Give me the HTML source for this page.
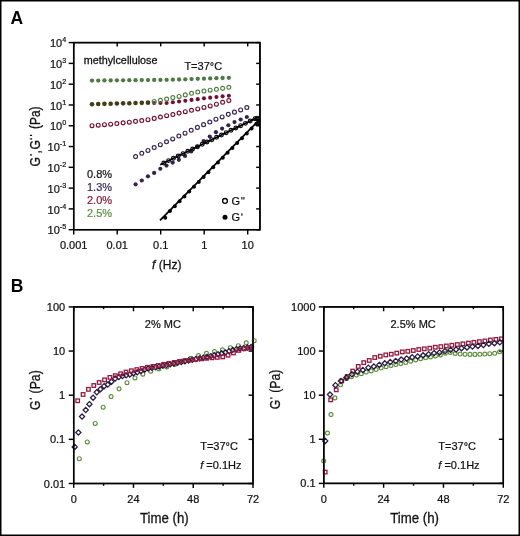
<!DOCTYPE html>
<html><head><meta charset="utf-8"><style>
html,body{margin:0;padding:0;background:#fff;}
svg{display:block;will-change:transform;font-family:"Liberation Sans", sans-serif;}
</style></head><body>
<svg width="520" height="536" viewBox="0 0 520 536">
<rect x="0" y="0" width="520" height="536" fill="#fff"/>
<rect x="0.75" y="0.75" width="518.5" height="534.5" fill="none" stroke="#000" stroke-width="1.5"/>
<rect x="73.7" y="42.6" width="186.25" height="187.1" fill="none" stroke="#000" stroke-width="1.45"/>
<line x1="68.7" y1="229.7" x2="73.7" y2="229.7" stroke="#000" stroke-width="1.45"/>
<line x1="259.95" y1="229.7" x2="256.15" y2="229.7" stroke="#000" stroke-width="1.45"/>
<line x1="68.7" y1="208.91" x2="73.7" y2="208.91" stroke="#000" stroke-width="1.45"/>
<line x1="259.95" y1="208.91" x2="256.15" y2="208.91" stroke="#000" stroke-width="1.45"/>
<line x1="68.7" y1="188.12" x2="73.7" y2="188.12" stroke="#000" stroke-width="1.45"/>
<line x1="259.95" y1="188.12" x2="256.15" y2="188.12" stroke="#000" stroke-width="1.45"/>
<line x1="68.7" y1="167.33" x2="73.7" y2="167.33" stroke="#000" stroke-width="1.45"/>
<line x1="259.95" y1="167.33" x2="256.15" y2="167.33" stroke="#000" stroke-width="1.45"/>
<line x1="68.7" y1="146.54" x2="73.7" y2="146.54" stroke="#000" stroke-width="1.45"/>
<line x1="259.95" y1="146.54" x2="256.15" y2="146.54" stroke="#000" stroke-width="1.45"/>
<line x1="68.7" y1="125.76" x2="73.7" y2="125.76" stroke="#000" stroke-width="1.45"/>
<line x1="259.95" y1="125.76" x2="256.15" y2="125.76" stroke="#000" stroke-width="1.45"/>
<line x1="68.7" y1="104.97" x2="73.7" y2="104.97" stroke="#000" stroke-width="1.45"/>
<line x1="259.95" y1="104.97" x2="256.15" y2="104.97" stroke="#000" stroke-width="1.45"/>
<line x1="68.7" y1="84.18" x2="73.7" y2="84.18" stroke="#000" stroke-width="1.45"/>
<line x1="259.95" y1="84.18" x2="256.15" y2="84.18" stroke="#000" stroke-width="1.45"/>
<line x1="68.7" y1="63.39" x2="73.7" y2="63.39" stroke="#000" stroke-width="1.45"/>
<line x1="259.95" y1="63.39" x2="256.15" y2="63.39" stroke="#000" stroke-width="1.45"/>
<line x1="68.7" y1="42.6" x2="73.7" y2="42.6" stroke="#000" stroke-width="1.45"/>
<line x1="259.95" y1="42.6" x2="256.15" y2="42.6" stroke="#000" stroke-width="1.45"/>
<line x1="73.7" y1="229.7" x2="73.7" y2="234.5" stroke="#000" stroke-width="1.45"/>
<line x1="73.7" y1="42.6" x2="73.7" y2="46.4" stroke="#000" stroke-width="1.45"/>
<line x1="117.2" y1="229.7" x2="117.2" y2="234.5" stroke="#000" stroke-width="1.45"/>
<line x1="117.2" y1="42.6" x2="117.2" y2="46.4" stroke="#000" stroke-width="1.45"/>
<line x1="160.7" y1="229.7" x2="160.7" y2="234.5" stroke="#000" stroke-width="1.45"/>
<line x1="160.7" y1="42.6" x2="160.7" y2="46.4" stroke="#000" stroke-width="1.45"/>
<line x1="204.2" y1="229.7" x2="204.2" y2="234.5" stroke="#000" stroke-width="1.45"/>
<line x1="204.2" y1="42.6" x2="204.2" y2="46.4" stroke="#000" stroke-width="1.45"/>
<line x1="247.7" y1="229.7" x2="247.7" y2="234.5" stroke="#000" stroke-width="1.45"/>
<line x1="247.7" y1="42.6" x2="247.7" y2="46.4" stroke="#000" stroke-width="1.45"/>
<text x="66.2" y="234.3" font-size="11" text-anchor="end" fill="#111" stroke="#111" stroke-width="0.22">10<tspan font-size="7.2" dy="-4.9">-5</tspan></text>
<text x="66.2" y="213.51" font-size="11" text-anchor="end" fill="#111" stroke="#111" stroke-width="0.22">10<tspan font-size="7.2" dy="-4.9">-4</tspan></text>
<text x="66.2" y="192.72" font-size="11" text-anchor="end" fill="#111" stroke="#111" stroke-width="0.22">10<tspan font-size="7.2" dy="-4.9">-3</tspan></text>
<text x="66.2" y="171.93" font-size="11" text-anchor="end" fill="#111" stroke="#111" stroke-width="0.22">10<tspan font-size="7.2" dy="-4.9">-2</tspan></text>
<text x="66.2" y="151.14" font-size="11" text-anchor="end" fill="#111" stroke="#111" stroke-width="0.22">10<tspan font-size="7.2" dy="-4.9">-1</tspan></text>
<text x="66.2" y="130.36" font-size="11" text-anchor="end" fill="#111" stroke="#111" stroke-width="0.22">10<tspan font-size="7.2" dy="-4.9">0</tspan></text>
<text x="66.2" y="109.57" font-size="11" text-anchor="end" fill="#111" stroke="#111" stroke-width="0.22">10<tspan font-size="7.2" dy="-4.9">1</tspan></text>
<text x="66.2" y="88.78" font-size="11" text-anchor="end" fill="#111" stroke="#111" stroke-width="0.22">10<tspan font-size="7.2" dy="-4.9">2</tspan></text>
<text x="66.2" y="67.99" font-size="11" text-anchor="end" fill="#111" stroke="#111" stroke-width="0.22">10<tspan font-size="7.2" dy="-4.9">3</tspan></text>
<text x="66.2" y="47.2" font-size="11" text-anchor="end" fill="#111" stroke="#111" stroke-width="0.22">10<tspan font-size="7.2" dy="-4.9">4</tspan></text>
<text x="73.7" y="249" font-size="11" text-anchor="middle" fill="#111" stroke="#111" stroke-width="0.22" >0.001</text>
<text x="117.2" y="249" font-size="11" text-anchor="middle" fill="#111" stroke="#111" stroke-width="0.22" >0.01</text>
<text x="160.7" y="249" font-size="11" text-anchor="middle" fill="#111" stroke="#111" stroke-width="0.22" >0.1</text>
<text x="204.2" y="249" font-size="11" text-anchor="middle" fill="#111" stroke="#111" stroke-width="0.22" >1</text>
<text x="247.7" y="249" font-size="11" text-anchor="middle" fill="#111" stroke="#111" stroke-width="0.22" >10</text>
<text x="166.8" y="268.7" font-size="13" text-anchor="middle" fill="#111" stroke="#111" stroke-width="0.28" textLength="29.4" lengthAdjust="spacingAndGlyphs"><tspan font-style="italic">f</tspan> (Hz)</text>
<text transform="translate(40.1,166.5) rotate(-90) scale(0.88,1)" x="0" y="0" font-size="13.8" fill="#111" stroke="#111" stroke-width="0.28">G</text>
<text transform="translate(40.1,153.6) rotate(-90) scale(0.88,1)" x="0" y="0" font-size="13.8" fill="#111" stroke="#111" stroke-width="0.28">,</text>
<text transform="translate(40.1,149.6) rotate(-90) scale(0.88,1)" x="0" y="0" font-size="13.8" fill="#111" stroke="#111" stroke-width="0.28">G</text>
<line x1="29.9" y1="154.9" x2="32.1" y2="154.9" stroke="#111" stroke-width="1.25"/>
<line x1="29.9" y1="135.4" x2="32.1" y2="135.4" stroke="#111" stroke-width="1.25"/>
<line x1="29.9" y1="138.9" x2="32.1" y2="138.9" stroke="#111" stroke-width="1.25"/>
<text transform="translate(40.1,128.9) rotate(-90)" x="0" y="0" font-size="13.8" fill="#111" stroke="#111" stroke-width="0.28" textLength="22.4" lengthAdjust="spacingAndGlyphs">(Pa)</text>
<text x="83.7" y="63.8" font-size="10.6" fill="#111" stroke="#111" stroke-width="0.28" textLength="73.8" lengthAdjust="spacingAndGlyphs">methylcellulose</text>
<text x="184.4" y="70" font-size="11" text-anchor="start" fill="#111" stroke="#111" stroke-width="0.22" >T=37°C</text>
<text x="87" y="177.6" font-size="11" text-anchor="start" fill="#141414" stroke="#141414" stroke-width="0.22" >0.8%</text>
<text x="87" y="190.6" font-size="11" text-anchor="start" fill="#3e2a5c" stroke="#3e2a5c" stroke-width="0.22" >1.3%</text>
<text x="87" y="203.9" font-size="11" text-anchor="start" fill="#7e1834" stroke="#7e1834" stroke-width="0.22" >2.0%</text>
<text x="87" y="216.6" font-size="11" text-anchor="start" fill="#5f8f45" stroke="#5f8f45" stroke-width="0.22" >2.5%</text>
<circle cx="225" cy="200.9" r="2.4" fill="none" stroke="#000" stroke-width="1.3"/>
<circle cx="225" cy="217.2" r="2.5" fill="#000"/>
<text x="231.6" y="204.6" font-size="11" text-anchor="start" fill="#111" stroke="#111" stroke-width="0.22" >G</text>
<text x="231.6" y="220.6" font-size="11" text-anchor="start" fill="#111" stroke="#111" stroke-width="0.22" >G</text>
<line x1="241.9" y1="197.1" x2="241.9" y2="199.5" stroke="#111" stroke-width="1.15"/>
<line x1="243.9" y1="197.1" x2="243.9" y2="199.5" stroke="#111" stroke-width="1.15"/>
<line x1="241.9" y1="213.3" x2="241.9" y2="215.7" stroke="#111" stroke-width="1.15"/>
<circle cx="92" cy="125.7" r="1.95" fill="none" stroke="#741030" stroke-width="1.15"/>
<circle cx="98.22" cy="125.2" r="1.95" fill="none" stroke="#741030" stroke-width="1.15"/>
<circle cx="104.44" cy="124.7" r="1.95" fill="none" stroke="#741030" stroke-width="1.15"/>
<circle cx="110.66" cy="124.19" r="1.95" fill="none" stroke="#741030" stroke-width="1.15"/>
<circle cx="116.88" cy="123.52" r="1.95" fill="none" stroke="#741030" stroke-width="1.15"/>
<circle cx="123.1" cy="122.85" r="1.95" fill="none" stroke="#741030" stroke-width="1.15"/>
<circle cx="129.32" cy="122.17" r="1.95" fill="none" stroke="#741030" stroke-width="1.15"/>
<circle cx="135.54" cy="121.36" r="1.95" fill="none" stroke="#741030" stroke-width="1.15"/>
<circle cx="141.76" cy="120.56" r="1.95" fill="none" stroke="#741030" stroke-width="1.15"/>
<circle cx="147.98" cy="119.72" r="1.95" fill="none" stroke="#741030" stroke-width="1.15"/>
<circle cx="154.2" cy="118.39" r="1.95" fill="none" stroke="#741030" stroke-width="1.15"/>
<circle cx="160.42" cy="117.06" r="1.95" fill="none" stroke="#741030" stroke-width="1.15"/>
<circle cx="166.64" cy="115.73" r="1.95" fill="none" stroke="#741030" stroke-width="1.15"/>
<circle cx="172.86" cy="114.5" r="1.95" fill="none" stroke="#741030" stroke-width="1.15"/>
<circle cx="179.08" cy="113.11" r="1.95" fill="none" stroke="#741030" stroke-width="1.15"/>
<circle cx="185.3" cy="111.73" r="1.95" fill="none" stroke="#741030" stroke-width="1.15"/>
<circle cx="191.52" cy="110.33" r="1.95" fill="none" stroke="#741030" stroke-width="1.15"/>
<circle cx="197.74" cy="108.9" r="1.95" fill="none" stroke="#741030" stroke-width="1.15"/>
<circle cx="203.96" cy="107.46" r="1.95" fill="none" stroke="#741030" stroke-width="1.15"/>
<circle cx="210.18" cy="105.97" r="1.95" fill="none" stroke="#741030" stroke-width="1.15"/>
<circle cx="216.4" cy="104.15" r="1.95" fill="none" stroke="#741030" stroke-width="1.15"/>
<circle cx="222.62" cy="102.32" r="1.95" fill="none" stroke="#741030" stroke-width="1.15"/>
<circle cx="228.84" cy="100.6" r="1.95" fill="none" stroke="#741030" stroke-width="1.15"/>
<circle cx="92" cy="104.2" r="2.3" fill="#3f3c18"/>
<circle cx="98.22" cy="104.03" r="2.3" fill="#3f3c18"/>
<circle cx="104.44" cy="103.87" r="2.3" fill="#3f3c18"/>
<circle cx="110.66" cy="103.7" r="2.3" fill="#3f3c18"/>
<circle cx="116.88" cy="103.54" r="2.3" fill="#3f3c18"/>
<circle cx="123.1" cy="103.37" r="2.3" fill="#3f3c18"/>
<circle cx="129.32" cy="103.21" r="2.3" fill="#3f3c18"/>
<circle cx="135.54" cy="103.04" r="2.3" fill="#3f3c18"/>
<circle cx="141.76" cy="102.87" r="2.3" fill="#3f3c18"/>
<circle cx="147.98" cy="102.63" r="2.3" fill="#3f3c18"/>
<circle cx="154.2" cy="103" r="2.05" fill="#741030"/>
<circle cx="154.2" cy="101.42" r="1.95" fill="none" stroke="#527e44" stroke-width="1.15"/>
<circle cx="160.42" cy="103" r="2.05" fill="#741030"/>
<circle cx="160.42" cy="100.26" r="1.95" fill="none" stroke="#527e44" stroke-width="1.15"/>
<circle cx="166.64" cy="102.94" r="2.05" fill="#741030"/>
<circle cx="166.64" cy="99.09" r="1.95" fill="none" stroke="#527e44" stroke-width="1.15"/>
<circle cx="172.86" cy="102.32" r="2.05" fill="#741030"/>
<circle cx="172.86" cy="97.6" r="1.95" fill="none" stroke="#527e44" stroke-width="1.15"/>
<circle cx="179.08" cy="101.47" r="2.05" fill="#741030"/>
<circle cx="179.08" cy="96.43" r="1.95" fill="none" stroke="#527e44" stroke-width="1.15"/>
<circle cx="185.3" cy="100.69" r="2.05" fill="#741030"/>
<circle cx="185.3" cy="94.88" r="1.95" fill="none" stroke="#527e44" stroke-width="1.15"/>
<circle cx="191.52" cy="99.91" r="2.05" fill="#741030"/>
<circle cx="191.52" cy="93.34" r="1.95" fill="none" stroke="#527e44" stroke-width="1.15"/>
<circle cx="197.74" cy="99.14" r="2.05" fill="#741030"/>
<circle cx="197.74" cy="92.05" r="1.95" fill="none" stroke="#527e44" stroke-width="1.15"/>
<circle cx="203.96" cy="98.37" r="2.05" fill="#741030"/>
<circle cx="203.96" cy="91.05" r="1.95" fill="none" stroke="#527e44" stroke-width="1.15"/>
<circle cx="210.18" cy="97.65" r="2.05" fill="#741030"/>
<circle cx="210.18" cy="90.19" r="1.95" fill="none" stroke="#527e44" stroke-width="1.15"/>
<circle cx="216.4" cy="97.05" r="2.05" fill="#741030"/>
<circle cx="216.4" cy="89.31" r="1.95" fill="none" stroke="#527e44" stroke-width="1.15"/>
<circle cx="222.62" cy="96.36" r="2.05" fill="#741030"/>
<circle cx="222.62" cy="88.37" r="1.95" fill="none" stroke="#527e44" stroke-width="1.15"/>
<circle cx="228.84" cy="95.8" r="2.05" fill="#741030"/>
<circle cx="228.84" cy="87.3" r="1.95" fill="none" stroke="#527e44" stroke-width="1.15"/>
<circle cx="92" cy="80.6" r="2.15" fill="#4f7845"/>
<circle cx="98.22" cy="80.54" r="2.15" fill="#4f7845"/>
<circle cx="104.44" cy="80.47" r="2.15" fill="#4f7845"/>
<circle cx="110.66" cy="80.41" r="2.15" fill="#4f7845"/>
<circle cx="116.88" cy="80.34" r="2.15" fill="#4f7845"/>
<circle cx="123.1" cy="80.28" r="2.15" fill="#4f7845"/>
<circle cx="129.32" cy="80.22" r="2.15" fill="#4f7845"/>
<circle cx="135.54" cy="80.15" r="2.15" fill="#4f7845"/>
<circle cx="141.76" cy="80.09" r="2.15" fill="#4f7845"/>
<circle cx="147.98" cy="80.03" r="2.15" fill="#4f7845"/>
<circle cx="154.2" cy="79.96" r="2.15" fill="#4f7845"/>
<circle cx="160.42" cy="79.9" r="2.15" fill="#4f7845"/>
<circle cx="166.64" cy="79.83" r="2.15" fill="#4f7845"/>
<circle cx="172.86" cy="79.7" r="2.15" fill="#4f7845"/>
<circle cx="179.08" cy="79.49" r="2.15" fill="#4f7845"/>
<circle cx="185.3" cy="79.28" r="2.15" fill="#4f7845"/>
<circle cx="191.52" cy="79.06" r="2.15" fill="#4f7845"/>
<circle cx="197.74" cy="78.85" r="2.15" fill="#4f7845"/>
<circle cx="203.96" cy="78.64" r="2.15" fill="#4f7845"/>
<circle cx="210.18" cy="78.43" r="2.15" fill="#4f7845"/>
<circle cx="216.4" cy="78.21" r="2.15" fill="#4f7845"/>
<circle cx="222.62" cy="78" r="2.15" fill="#4f7845"/>
<circle cx="228.84" cy="77.8" r="2.15" fill="#4f7845"/>
<circle cx="135.6" cy="156.6" r="1.95" fill="none" stroke="#36224e" stroke-width="1.15"/>
<circle cx="141.78" cy="153.32" r="1.95" fill="none" stroke="#36224e" stroke-width="1.15"/>
<circle cx="147.96" cy="150.47" r="1.95" fill="none" stroke="#36224e" stroke-width="1.15"/>
<circle cx="154.14" cy="147.59" r="1.95" fill="none" stroke="#36224e" stroke-width="1.15"/>
<circle cx="160.32" cy="144.7" r="1.95" fill="none" stroke="#36224e" stroke-width="1.15"/>
<circle cx="166.5" cy="141.82" r="1.95" fill="none" stroke="#36224e" stroke-width="1.15"/>
<circle cx="172.68" cy="138.93" r="1.95" fill="none" stroke="#36224e" stroke-width="1.15"/>
<circle cx="178.86" cy="136.05" r="1.95" fill="none" stroke="#36224e" stroke-width="1.15"/>
<circle cx="185.04" cy="133.16" r="1.95" fill="none" stroke="#36224e" stroke-width="1.15"/>
<circle cx="191.22" cy="130.28" r="1.95" fill="none" stroke="#36224e" stroke-width="1.15"/>
<circle cx="197.4" cy="127.39" r="1.95" fill="none" stroke="#36224e" stroke-width="1.15"/>
<circle cx="203.58" cy="124.63" r="1.95" fill="none" stroke="#36224e" stroke-width="1.15"/>
<circle cx="209.76" cy="122.03" r="1.95" fill="none" stroke="#36224e" stroke-width="1.15"/>
<circle cx="215.94" cy="119.18" r="1.95" fill="none" stroke="#36224e" stroke-width="1.15"/>
<circle cx="222.12" cy="116.99" r="1.95" fill="none" stroke="#36224e" stroke-width="1.15"/>
<circle cx="228.3" cy="114.36" r="1.95" fill="none" stroke="#36224e" stroke-width="1.15"/>
<circle cx="234.48" cy="112.14" r="1.95" fill="none" stroke="#36224e" stroke-width="1.15"/>
<circle cx="240.66" cy="109.99" r="1.95" fill="none" stroke="#36224e" stroke-width="1.15"/>
<circle cx="246.84" cy="107.5" r="1.95" fill="none" stroke="#36224e" stroke-width="1.15"/>
<circle cx="135.6" cy="184.31" r="2.1" fill="#36224e"/>
<circle cx="141.78" cy="180.48" r="2.1" fill="#36224e"/>
<circle cx="147.96" cy="176.37" r="2.1" fill="#36224e"/>
<circle cx="154.14" cy="172.9" r="2.1" fill="#36224e"/>
<circle cx="160.32" cy="168.74" r="2.1" fill="#36224e"/>
<circle cx="166.5" cy="165.6" r="2.1" fill="#36224e"/>
<circle cx="172.68" cy="162.53" r="2.1" fill="#36224e"/>
<circle cx="178.86" cy="159.78" r="2.1" fill="#36224e"/>
<circle cx="185.04" cy="155.89" r="2.1" fill="#36224e"/>
<circle cx="191.22" cy="151.48" r="2.1" fill="#36224e"/>
<circle cx="197.4" cy="146.83" r="2.1" fill="#36224e"/>
<circle cx="203.58" cy="141.07" r="2.1" fill="#36224e"/>
<circle cx="209.76" cy="136.49" r="2.1" fill="#36224e"/>
<circle cx="215.94" cy="132.18" r="2.1" fill="#36224e"/>
<circle cx="222.12" cy="128.59" r="2.1" fill="#36224e"/>
<circle cx="228.3" cy="125.25" r="2.1" fill="#36224e"/>
<circle cx="234.48" cy="122.12" r="2.1" fill="#36224e"/>
<circle cx="240.66" cy="119.49" r="2.1" fill="#36224e"/>
<circle cx="246.84" cy="117" r="2.1" fill="#36224e"/>
<circle cx="163.8" cy="162.95" r="1.9" fill="none" stroke="#0a0a0a" stroke-width="1.15"/>
<circle cx="168.6" cy="160.62" r="1.9" fill="none" stroke="#0a0a0a" stroke-width="1.15"/>
<circle cx="173.4" cy="158.29" r="1.9" fill="none" stroke="#0a0a0a" stroke-width="1.15"/>
<circle cx="178.2" cy="155.97" r="1.9" fill="none" stroke="#0a0a0a" stroke-width="1.15"/>
<circle cx="183" cy="153.64" r="1.9" fill="none" stroke="#0a0a0a" stroke-width="1.15"/>
<circle cx="187.8" cy="151.31" r="1.9" fill="none" stroke="#0a0a0a" stroke-width="1.15"/>
<circle cx="192.6" cy="148.98" r="1.9" fill="none" stroke="#0a0a0a" stroke-width="1.15"/>
<circle cx="197.4" cy="146.65" r="1.9" fill="none" stroke="#0a0a0a" stroke-width="1.15"/>
<circle cx="202.2" cy="144.32" r="1.9" fill="none" stroke="#0a0a0a" stroke-width="1.15"/>
<circle cx="207" cy="141.99" r="1.9" fill="none" stroke="#0a0a0a" stroke-width="1.15"/>
<circle cx="211.8" cy="139.66" r="1.9" fill="none" stroke="#0a0a0a" stroke-width="1.15"/>
<circle cx="216.6" cy="137.33" r="1.9" fill="none" stroke="#0a0a0a" stroke-width="1.15"/>
<circle cx="221.4" cy="135" r="1.9" fill="none" stroke="#0a0a0a" stroke-width="1.15"/>
<circle cx="226.2" cy="132.67" r="1.9" fill="none" stroke="#0a0a0a" stroke-width="1.15"/>
<circle cx="231" cy="130.34" r="1.9" fill="none" stroke="#0a0a0a" stroke-width="1.15"/>
<circle cx="235.8" cy="128.02" r="1.9" fill="none" stroke="#0a0a0a" stroke-width="1.15"/>
<circle cx="240.6" cy="125.69" r="1.9" fill="none" stroke="#0a0a0a" stroke-width="1.15"/>
<circle cx="245.4" cy="123.36" r="1.9" fill="none" stroke="#0a0a0a" stroke-width="1.15"/>
<circle cx="250.2" cy="121.03" r="1.9" fill="none" stroke="#0a0a0a" stroke-width="1.15"/>
<circle cx="255" cy="118.7" r="1.9" fill="none" stroke="#0a0a0a" stroke-width="1.15"/>
<circle cx="165.2" cy="217.85" r="2.0" fill="#0a0a0a"/>
<circle cx="170" cy="211" r="2.0" fill="#0a0a0a"/>
<circle cx="174.8" cy="206.15" r="2.0" fill="#0a0a0a"/>
<circle cx="179.6" cy="201.3" r="2.0" fill="#0a0a0a"/>
<circle cx="184.4" cy="196.45" r="2.0" fill="#0a0a0a"/>
<circle cx="189.2" cy="191.6" r="2.0" fill="#0a0a0a"/>
<circle cx="194" cy="186.75" r="2.0" fill="#0a0a0a"/>
<circle cx="198.8" cy="181.91" r="2.0" fill="#0a0a0a"/>
<circle cx="203.6" cy="177.06" r="2.0" fill="#0a0a0a"/>
<circle cx="208.4" cy="172.21" r="2.0" fill="#0a0a0a"/>
<circle cx="213.2" cy="167.36" r="2.0" fill="#0a0a0a"/>
<circle cx="218" cy="162.51" r="2.0" fill="#0a0a0a"/>
<circle cx="222.8" cy="157.66" r="2.0" fill="#0a0a0a"/>
<circle cx="227.6" cy="152.81" r="2.0" fill="#0a0a0a"/>
<circle cx="232.4" cy="147.96" r="2.0" fill="#0a0a0a"/>
<circle cx="237.2" cy="143.12" r="2.0" fill="#0a0a0a"/>
<circle cx="242" cy="138.27" r="2.0" fill="#0a0a0a"/>
<circle cx="246.8" cy="133.42" r="2.0" fill="#0a0a0a"/>
<circle cx="251.6" cy="128.57" r="2.0" fill="#0a0a0a"/>
<circle cx="256.4" cy="123.72" r="2.0" fill="#0a0a0a"/>
<line x1="160.2" y1="164.7" x2="258.8" y2="116.9" stroke="#000" stroke-width="1.8"/>
<line x1="160" y1="220.3" x2="258.8" y2="120.5" stroke="#000" stroke-width="1.8"/>
<circle cx="257.6" cy="124" r="2.2" fill="#0a0a0a"/>
<circle cx="258.4" cy="120.6" r="2.2" fill="#0a0a0a"/>
<circle cx="257" cy="118.2" r="1.9" fill="none" stroke="#0a0a0a" stroke-width="1.15"/>
<text x="10.6" y="23.6" font-size="17.5" font-weight="bold" fill="#000">A</text>
<text x="10.8" y="291.9" font-size="17.5" font-weight="bold" fill="#000">B</text>
<rect x="73.7" y="306.9" width="179.3" height="176.6" fill="none" stroke="#000" stroke-width="1.45"/>
<line x1="68.7" y1="306.9" x2="73.7" y2="306.9" stroke="#000" stroke-width="1.45"/>
<line x1="253" y1="306.9" x2="248.6" y2="306.9" stroke="#000" stroke-width="1.45"/>
<text x="65.2" y="310.9" font-size="11" text-anchor="end" fill="#111" stroke="#111" stroke-width="0.22" >100</text>
<line x1="68.7" y1="351.05" x2="73.7" y2="351.05" stroke="#000" stroke-width="1.45"/>
<line x1="253" y1="351.05" x2="248.6" y2="351.05" stroke="#000" stroke-width="1.45"/>
<text x="65.2" y="355.05" font-size="11" text-anchor="end" fill="#111" stroke="#111" stroke-width="0.22" >10</text>
<line x1="68.7" y1="395.2" x2="73.7" y2="395.2" stroke="#000" stroke-width="1.45"/>
<line x1="253" y1="395.2" x2="248.6" y2="395.2" stroke="#000" stroke-width="1.45"/>
<text x="65.2" y="399.2" font-size="11" text-anchor="end" fill="#111" stroke="#111" stroke-width="0.22" >1</text>
<line x1="68.7" y1="439.35" x2="73.7" y2="439.35" stroke="#000" stroke-width="1.45"/>
<line x1="253" y1="439.35" x2="248.6" y2="439.35" stroke="#000" stroke-width="1.45"/>
<text x="65.2" y="443.35" font-size="11" text-anchor="end" fill="#111" stroke="#111" stroke-width="0.22" >0.1</text>
<line x1="68.7" y1="483.5" x2="73.7" y2="483.5" stroke="#000" stroke-width="1.45"/>
<line x1="253" y1="483.5" x2="248.6" y2="483.5" stroke="#000" stroke-width="1.45"/>
<text x="65.2" y="487.5" font-size="11" text-anchor="end" fill="#111" stroke="#111" stroke-width="0.22" >0.01</text>
<line x1="73.7" y1="483.5" x2="73.7" y2="487.9" stroke="#000" stroke-width="1.45"/>
<line x1="73.7" y1="306.9" x2="73.7" y2="311.3" stroke="#000" stroke-width="1.45"/>
<text x="73.7" y="502.9" font-size="11" text-anchor="middle" fill="#111" stroke="#111" stroke-width="0.22" >0</text>
<line x1="103.58" y1="483.5" x2="103.58" y2="485.8" stroke="#000" stroke-width="1.45"/>
<line x1="103.58" y1="306.9" x2="103.58" y2="309.2" stroke="#000" stroke-width="1.45"/>
<line x1="133.47" y1="483.5" x2="133.47" y2="487.9" stroke="#000" stroke-width="1.45"/>
<line x1="133.47" y1="306.9" x2="133.47" y2="311.3" stroke="#000" stroke-width="1.45"/>
<text x="133.47" y="502.9" font-size="11" text-anchor="middle" fill="#111" stroke="#111" stroke-width="0.22" >24</text>
<line x1="163.35" y1="483.5" x2="163.35" y2="485.8" stroke="#000" stroke-width="1.45"/>
<line x1="163.35" y1="306.9" x2="163.35" y2="309.2" stroke="#000" stroke-width="1.45"/>
<line x1="193.23" y1="483.5" x2="193.23" y2="487.9" stroke="#000" stroke-width="1.45"/>
<line x1="193.23" y1="306.9" x2="193.23" y2="311.3" stroke="#000" stroke-width="1.45"/>
<text x="193.23" y="502.9" font-size="11" text-anchor="middle" fill="#111" stroke="#111" stroke-width="0.22" >48</text>
<line x1="223.12" y1="483.5" x2="223.12" y2="485.8" stroke="#000" stroke-width="1.45"/>
<line x1="223.12" y1="306.9" x2="223.12" y2="309.2" stroke="#000" stroke-width="1.45"/>
<line x1="253" y1="483.5" x2="253" y2="487.9" stroke="#000" stroke-width="1.45"/>
<line x1="253" y1="306.9" x2="253" y2="311.3" stroke="#000" stroke-width="1.45"/>
<text x="253" y="502.9" font-size="11" text-anchor="middle" fill="#111" stroke="#111" stroke-width="0.22" >72</text>
<text x="164.35" y="522.8" font-size="14.2" text-anchor="middle" fill="#111" stroke="#111" stroke-width="0.28" textLength="48.8" lengthAdjust="spacingAndGlyphs">Time (h)</text>
<text transform="translate(39.8,409.9) rotate(-90) scale(0.88,1)" x="0" y="0" font-size="13.8" fill="#111" stroke="#111" stroke-width="0.28">G</text>
<line x1="29.6" y1="398.7" x2="31.8" y2="398.7" stroke="#111" stroke-width="1.25"/>
<text transform="translate(39.8,393.4) rotate(-90)" x="0" y="0" font-size="13.8" fill="#111" stroke="#111" stroke-width="0.28" textLength="23.2" lengthAdjust="spacingAndGlyphs">(Pa)</text>
<text x="144.8" y="328.4" font-size="11" text-anchor="start" fill="#111" stroke="#111" stroke-width="0.22" >2% MC</text>
<text x="200.2" y="449.5" font-size="11" text-anchor="start" fill="#111" stroke="#111" stroke-width="0.22" >T=37°C</text>
<text x="200.2" y="469.3" font-size="11" fill="#111" stroke="#111" stroke-width="0.22"><tspan font-style="italic">f</tspan> =0.1Hz</text>
<rect x="323.8" y="306.9" width="179.5" height="176.5" fill="none" stroke="#000" stroke-width="1.45"/>
<line x1="318.8" y1="306.9" x2="323.8" y2="306.9" stroke="#000" stroke-width="1.45"/>
<line x1="503.3" y1="306.9" x2="498.9" y2="306.9" stroke="#000" stroke-width="1.45"/>
<text x="315.6" y="310.9" font-size="11" text-anchor="end" fill="#111" stroke="#111" stroke-width="0.22" >1000</text>
<line x1="318.8" y1="351.02" x2="323.8" y2="351.02" stroke="#000" stroke-width="1.45"/>
<line x1="503.3" y1="351.02" x2="498.9" y2="351.02" stroke="#000" stroke-width="1.45"/>
<text x="315.6" y="355.02" font-size="11" text-anchor="end" fill="#111" stroke="#111" stroke-width="0.22" >100</text>
<line x1="318.8" y1="395.15" x2="323.8" y2="395.15" stroke="#000" stroke-width="1.45"/>
<line x1="503.3" y1="395.15" x2="498.9" y2="395.15" stroke="#000" stroke-width="1.45"/>
<text x="315.6" y="399.15" font-size="11" text-anchor="end" fill="#111" stroke="#111" stroke-width="0.22" >10</text>
<line x1="318.8" y1="439.27" x2="323.8" y2="439.27" stroke="#000" stroke-width="1.45"/>
<line x1="503.3" y1="439.27" x2="498.9" y2="439.27" stroke="#000" stroke-width="1.45"/>
<text x="315.6" y="443.27" font-size="11" text-anchor="end" fill="#111" stroke="#111" stroke-width="0.22" >1</text>
<line x1="318.8" y1="483.4" x2="323.8" y2="483.4" stroke="#000" stroke-width="1.45"/>
<line x1="503.3" y1="483.4" x2="498.9" y2="483.4" stroke="#000" stroke-width="1.45"/>
<text x="315.6" y="487.4" font-size="11" text-anchor="end" fill="#111" stroke="#111" stroke-width="0.22" >0.1</text>
<line x1="323.8" y1="483.4" x2="323.8" y2="487.8" stroke="#000" stroke-width="1.45"/>
<line x1="323.8" y1="306.9" x2="323.8" y2="311.3" stroke="#000" stroke-width="1.45"/>
<text x="323.8" y="502.9" font-size="11" text-anchor="middle" fill="#111" stroke="#111" stroke-width="0.22" >0</text>
<line x1="353.72" y1="483.4" x2="353.72" y2="485.7" stroke="#000" stroke-width="1.45"/>
<line x1="353.72" y1="306.9" x2="353.72" y2="309.2" stroke="#000" stroke-width="1.45"/>
<line x1="383.63" y1="483.4" x2="383.63" y2="487.8" stroke="#000" stroke-width="1.45"/>
<line x1="383.63" y1="306.9" x2="383.63" y2="311.3" stroke="#000" stroke-width="1.45"/>
<text x="383.63" y="502.9" font-size="11" text-anchor="middle" fill="#111" stroke="#111" stroke-width="0.22" >24</text>
<line x1="413.55" y1="483.4" x2="413.55" y2="485.7" stroke="#000" stroke-width="1.45"/>
<line x1="413.55" y1="306.9" x2="413.55" y2="309.2" stroke="#000" stroke-width="1.45"/>
<line x1="443.47" y1="483.4" x2="443.47" y2="487.8" stroke="#000" stroke-width="1.45"/>
<line x1="443.47" y1="306.9" x2="443.47" y2="311.3" stroke="#000" stroke-width="1.45"/>
<text x="443.47" y="502.9" font-size="11" text-anchor="middle" fill="#111" stroke="#111" stroke-width="0.22" >48</text>
<line x1="473.38" y1="483.4" x2="473.38" y2="485.7" stroke="#000" stroke-width="1.45"/>
<line x1="473.38" y1="306.9" x2="473.38" y2="309.2" stroke="#000" stroke-width="1.45"/>
<line x1="503.3" y1="483.4" x2="503.3" y2="487.8" stroke="#000" stroke-width="1.45"/>
<line x1="503.3" y1="306.9" x2="503.3" y2="311.3" stroke="#000" stroke-width="1.45"/>
<text x="503.3" y="502.9" font-size="11" text-anchor="middle" fill="#111" stroke="#111" stroke-width="0.22" >72</text>
<text x="414.55" y="522.8" font-size="14.2" text-anchor="middle" fill="#111" stroke="#111" stroke-width="0.28" textLength="48.8" lengthAdjust="spacingAndGlyphs">Time (h)</text>
<text transform="translate(280.4,409.3) rotate(-90) scale(0.88,1)" x="0" y="0" font-size="13.8" fill="#111" stroke="#111" stroke-width="0.28">G</text>
<line x1="270.2" y1="398.1" x2="272.4" y2="398.1" stroke="#111" stroke-width="1.25"/>
<text transform="translate(280.4,392.8) rotate(-90)" x="0" y="0" font-size="13.8" fill="#111" stroke="#111" stroke-width="0.28" textLength="23.2" lengthAdjust="spacingAndGlyphs">(Pa)</text>
<text x="390.5" y="328.4" font-size="11" text-anchor="start" fill="#111" stroke="#111" stroke-width="0.22" >2.5% MC</text>
<text x="438.3" y="449.5" font-size="11" text-anchor="start" fill="#111" stroke="#111" stroke-width="0.22" >T=37°C</text>
<text x="438.3" y="469.3" font-size="11" fill="#111" stroke="#111" stroke-width="0.22"><tspan font-style="italic">f</tspan> =0.1Hz</text>
<circle cx="79.3" cy="458.7" r="1.95" fill="none" stroke="#5e8e3e" stroke-width="1.15"/>
<circle cx="87.25" cy="441.91" r="1.95" fill="none" stroke="#5e8e3e" stroke-width="1.15"/>
<circle cx="95.2" cy="423.46" r="1.95" fill="none" stroke="#5e8e3e" stroke-width="1.15"/>
<circle cx="103.15" cy="407.2" r="1.95" fill="none" stroke="#5e8e3e" stroke-width="1.15"/>
<circle cx="111.1" cy="396.6" r="1.95" fill="none" stroke="#5e8e3e" stroke-width="1.15"/>
<circle cx="119.05" cy="388.85" r="1.95" fill="none" stroke="#5e8e3e" stroke-width="1.15"/>
<circle cx="127" cy="382.74" r="1.95" fill="none" stroke="#5e8e3e" stroke-width="1.15"/>
<circle cx="134.95" cy="377.93" r="1.95" fill="none" stroke="#5e8e3e" stroke-width="1.15"/>
<circle cx="142.9" cy="374.19" r="1.95" fill="none" stroke="#5e8e3e" stroke-width="1.15"/>
<circle cx="150.85" cy="371.24" r="1.95" fill="none" stroke="#5e8e3e" stroke-width="1.15"/>
<circle cx="158.8" cy="368.92" r="1.95" fill="none" stroke="#5e8e3e" stroke-width="1.15"/>
<circle cx="166.75" cy="366.9" r="1.95" fill="none" stroke="#5e8e3e" stroke-width="1.15"/>
<circle cx="174.7" cy="364.54" r="1.95" fill="none" stroke="#5e8e3e" stroke-width="1.15"/>
<circle cx="182.65" cy="361.36" r="1.95" fill="none" stroke="#5e8e3e" stroke-width="1.15"/>
<circle cx="190.6" cy="358.39" r="1.95" fill="none" stroke="#5e8e3e" stroke-width="1.15"/>
<circle cx="198.55" cy="355.63" r="1.95" fill="none" stroke="#5e8e3e" stroke-width="1.15"/>
<circle cx="206.5" cy="353.26" r="1.95" fill="none" stroke="#5e8e3e" stroke-width="1.15"/>
<circle cx="214.45" cy="351.51" r="1.95" fill="none" stroke="#5e8e3e" stroke-width="1.15"/>
<circle cx="222.4" cy="349.89" r="1.95" fill="none" stroke="#5e8e3e" stroke-width="1.15"/>
<circle cx="230.35" cy="347.67" r="1.95" fill="none" stroke="#5e8e3e" stroke-width="1.15"/>
<circle cx="238.3" cy="345.69" r="1.95" fill="none" stroke="#5e8e3e" stroke-width="1.15"/>
<circle cx="246.25" cy="342.81" r="1.95" fill="none" stroke="#5e8e3e" stroke-width="1.15"/>
<circle cx="254.2" cy="340.73" r="1.95" fill="none" stroke="#5e8e3e" stroke-width="1.15"/>
<path d="M74.7 444.3L77.3 446.9L74.7 449.5L72.1 446.9Z" fill="none" stroke="#28183e" stroke-width="1.25"/>
<path d="M78.38 429.9L80.97 432.5L78.38 435.1L75.78 432.5Z" fill="none" stroke="#28183e" stroke-width="1.25"/>
<path d="M82.05 413.95L84.65 416.55L82.05 419.15L79.45 416.55Z" fill="none" stroke="#28183e" stroke-width="1.25"/>
<path d="M85.72 407.39L88.32 409.99L85.72 412.59L83.12 409.99Z" fill="none" stroke="#28183e" stroke-width="1.25"/>
<path d="M89.4 401.56L92 404.16L89.4 406.76L86.8 404.16Z" fill="none" stroke="#28183e" stroke-width="1.25"/>
<path d="M93.08 395.14L95.67 397.74L93.08 400.34L90.48 397.74Z" fill="none" stroke="#28183e" stroke-width="1.25"/>
<path d="M96.75 389.62L99.35 392.22L96.75 394.82L94.15 392.22Z" fill="none" stroke="#28183e" stroke-width="1.25"/>
<path d="M100.42 386.6L103.02 389.2L100.42 391.8L97.83 389.2Z" fill="none" stroke="#28183e" stroke-width="1.25"/>
<path d="M104.1 383.56L106.7 386.16L104.1 388.76L101.5 386.16Z" fill="none" stroke="#28183e" stroke-width="1.25"/>
<path d="M107.78 382L110.38 384.6L107.78 387.2L105.18 384.6Z" fill="none" stroke="#28183e" stroke-width="1.25"/>
<path d="M111.45 379.1L114.05 381.7L111.45 384.3L108.85 381.7Z" fill="none" stroke="#28183e" stroke-width="1.25"/>
<path d="M115.12 375.99L117.72 378.59L115.12 381.19L112.53 378.59Z" fill="none" stroke="#28183e" stroke-width="1.25"/>
<path d="M118.8 374.43L121.4 377.03L118.8 379.63L116.2 377.03Z" fill="none" stroke="#28183e" stroke-width="1.25"/>
<path d="M122.47 373.5L125.07 376.1L122.47 378.7L119.88 376.1Z" fill="none" stroke="#28183e" stroke-width="1.25"/>
<path d="M126.15 372.72L128.75 375.32L126.15 377.92L123.55 375.32Z" fill="none" stroke="#28183e" stroke-width="1.25"/>
<path d="M129.82 371.92L132.42 374.52L129.82 377.12L127.22 374.52Z" fill="none" stroke="#28183e" stroke-width="1.25"/>
<path d="M133.5 370.61L136.1 373.21L133.5 375.81L130.9 373.21Z" fill="none" stroke="#28183e" stroke-width="1.25"/>
<path d="M137.18 369.73L139.78 372.33L137.18 374.93L134.58 372.33Z" fill="none" stroke="#28183e" stroke-width="1.25"/>
<path d="M140.85 368.44L143.45 371.04L140.85 373.64L138.25 371.04Z" fill="none" stroke="#28183e" stroke-width="1.25"/>
<path d="M144.53 367.1L147.12 369.7L144.53 372.3L141.93 369.7Z" fill="none" stroke="#28183e" stroke-width="1.25"/>
<path d="M148.2 366L150.8 368.6L148.2 371.2L145.6 368.6Z" fill="none" stroke="#28183e" stroke-width="1.25"/>
<path d="M151.88 365.28L154.47 367.88L151.88 370.48L149.28 367.88Z" fill="none" stroke="#28183e" stroke-width="1.25"/>
<path d="M155.55 364.55L158.15 367.15L155.55 369.75L152.95 367.15Z" fill="none" stroke="#28183e" stroke-width="1.25"/>
<path d="M159.22 363.83L161.82 366.43L159.22 369.03L156.62 366.43Z" fill="none" stroke="#28183e" stroke-width="1.25"/>
<path d="M162.9 363.1L165.5 365.7L162.9 368.3L160.3 365.7Z" fill="none" stroke="#28183e" stroke-width="1.25"/>
<path d="M166.57 362.38L169.17 364.98L166.57 367.58L163.97 364.98Z" fill="none" stroke="#28183e" stroke-width="1.25"/>
<path d="M170.25 361.65L172.85 364.25L170.25 366.85L167.65 364.25Z" fill="none" stroke="#28183e" stroke-width="1.25"/>
<path d="M173.93 360.91L176.53 363.51L173.93 366.12L171.33 363.51Z" fill="none" stroke="#28183e" stroke-width="1.25"/>
<path d="M177.6 360.18L180.2 362.78L177.6 365.38L175 362.78Z" fill="none" stroke="#28183e" stroke-width="1.25"/>
<path d="M181.27 359.44L183.87 362.05L181.27 364.65L178.67 362.05Z" fill="none" stroke="#28183e" stroke-width="1.25"/>
<path d="M184.95 358.71L187.55 361.31L184.95 363.91L182.35 361.31Z" fill="none" stroke="#28183e" stroke-width="1.25"/>
<path d="M188.62 357.97L191.22 360.57L188.62 363.18L186.03 360.57Z" fill="none" stroke="#28183e" stroke-width="1.25"/>
<path d="M192.3 357.24L194.9 359.84L192.3 362.44L189.7 359.84Z" fill="none" stroke="#28183e" stroke-width="1.25"/>
<path d="M195.97 356.5L198.57 359.11L195.97 361.71L193.38 359.11Z" fill="none" stroke="#28183e" stroke-width="1.25"/>
<path d="M199.65 355.77L202.25 358.37L199.65 360.97L197.05 358.37Z" fill="none" stroke="#28183e" stroke-width="1.25"/>
<path d="M203.32 355.03L205.92 357.63L203.32 360.24L200.72 357.63Z" fill="none" stroke="#28183e" stroke-width="1.25"/>
<path d="M207 354.3L209.6 356.9L207 359.5L204.4 356.9Z" fill="none" stroke="#28183e" stroke-width="1.25"/>
<path d="M210.68 353.53L213.28 356.13L210.68 358.73L208.08 356.13Z" fill="none" stroke="#28183e" stroke-width="1.25"/>
<path d="M214.35 352.6L216.95 355.2L214.35 357.8L211.75 355.2Z" fill="none" stroke="#28183e" stroke-width="1.25"/>
<path d="M218.02 351.67L220.62 354.27L218.02 356.87L215.42 354.27Z" fill="none" stroke="#28183e" stroke-width="1.25"/>
<path d="M221.7 350.74L224.3 353.34L221.7 355.94L219.1 353.34Z" fill="none" stroke="#28183e" stroke-width="1.25"/>
<path d="M225.38 349.81L227.97 352.41L225.38 355.01L222.78 352.41Z" fill="none" stroke="#28183e" stroke-width="1.25"/>
<path d="M229.05 348.58L231.65 351.18L229.05 353.78L226.45 351.18Z" fill="none" stroke="#28183e" stroke-width="1.25"/>
<path d="M232.73 347.28L235.33 349.88L232.73 352.48L230.13 349.88Z" fill="none" stroke="#28183e" stroke-width="1.25"/>
<path d="M236.4 346.55L239 349.15L236.4 351.75L233.8 349.15Z" fill="none" stroke="#28183e" stroke-width="1.25"/>
<path d="M240.07 345.98L242.67 348.58L240.07 351.18L237.47 348.58Z" fill="none" stroke="#28183e" stroke-width="1.25"/>
<path d="M243.75 345.45L246.35 348.05L243.75 350.65L241.15 348.05Z" fill="none" stroke="#28183e" stroke-width="1.25"/>
<path d="M247.43 344.95L250.03 347.55L247.43 350.15L244.83 347.55Z" fill="none" stroke="#28183e" stroke-width="1.25"/>
<path d="M251.1 344.44L253.7 347.04L251.1 349.64L248.5 347.04Z" fill="none" stroke="#28183e" stroke-width="1.25"/>
<rect x="75.92" y="398.99" width="3.55" height="3.55" fill="none" stroke="#961a3e" stroke-width="1.3"/>
<rect x="81.3" y="392.69" width="3.55" height="3.55" fill="none" stroke="#961a3e" stroke-width="1.3"/>
<rect x="86.66" y="387.57" width="3.55" height="3.55" fill="none" stroke="#961a3e" stroke-width="1.3"/>
<rect x="92.03" y="383.73" width="3.55" height="3.55" fill="none" stroke="#961a3e" stroke-width="1.3"/>
<rect x="97.41" y="380.71" width="3.55" height="3.55" fill="none" stroke="#961a3e" stroke-width="1.3"/>
<rect x="102.78" y="378.09" width="3.55" height="3.55" fill="none" stroke="#961a3e" stroke-width="1.3"/>
<rect x="108.14" y="375.63" width="3.55" height="3.55" fill="none" stroke="#961a3e" stroke-width="1.3"/>
<rect x="113.52" y="373.88" width="3.55" height="3.55" fill="none" stroke="#961a3e" stroke-width="1.3"/>
<rect x="118.88" y="371.99" width="3.55" height="3.55" fill="none" stroke="#961a3e" stroke-width="1.3"/>
<rect x="124.25" y="370.32" width="3.55" height="3.55" fill="none" stroke="#961a3e" stroke-width="1.3"/>
<rect x="129.62" y="368.99" width="3.55" height="3.55" fill="none" stroke="#961a3e" stroke-width="1.3"/>
<rect x="135" y="367.81" width="3.55" height="3.55" fill="none" stroke="#961a3e" stroke-width="1.3"/>
<rect x="140.36" y="366.7" width="3.55" height="3.55" fill="none" stroke="#961a3e" stroke-width="1.3"/>
<rect x="145.73" y="365.5" width="3.55" height="3.55" fill="none" stroke="#961a3e" stroke-width="1.3"/>
<rect x="151.1" y="364.66" width="3.55" height="3.55" fill="none" stroke="#961a3e" stroke-width="1.3"/>
<rect x="156.47" y="363.75" width="3.55" height="3.55" fill="none" stroke="#961a3e" stroke-width="1.3"/>
<rect x="161.84" y="362.62" width="3.55" height="3.55" fill="none" stroke="#961a3e" stroke-width="1.3"/>
<rect x="167.22" y="361.6" width="3.55" height="3.55" fill="none" stroke="#961a3e" stroke-width="1.3"/>
<rect x="172.59" y="360.67" width="3.55" height="3.55" fill="none" stroke="#961a3e" stroke-width="1.3"/>
<rect x="177.96" y="359.74" width="3.55" height="3.55" fill="none" stroke="#961a3e" stroke-width="1.3"/>
<rect x="183.33" y="358.81" width="3.55" height="3.55" fill="none" stroke="#961a3e" stroke-width="1.3"/>
<rect x="188.69" y="358.22" width="3.55" height="3.55" fill="none" stroke="#961a3e" stroke-width="1.3"/>
<rect x="194.06" y="357.63" width="3.55" height="3.55" fill="none" stroke="#961a3e" stroke-width="1.3"/>
<rect x="199.44" y="357.04" width="3.55" height="3.55" fill="none" stroke="#961a3e" stroke-width="1.3"/>
<rect x="204.8" y="356.49" width="3.55" height="3.55" fill="none" stroke="#961a3e" stroke-width="1.3"/>
<rect x="210.17" y="356.04" width="3.55" height="3.55" fill="none" stroke="#961a3e" stroke-width="1.3"/>
<rect x="215.54" y="355.58" width="3.55" height="3.55" fill="none" stroke="#961a3e" stroke-width="1.3"/>
<rect x="220.91" y="355.13" width="3.55" height="3.55" fill="none" stroke="#961a3e" stroke-width="1.3"/>
<rect x="226.28" y="353.47" width="3.55" height="3.55" fill="none" stroke="#961a3e" stroke-width="1.3"/>
<rect x="231.66" y="351.19" width="3.55" height="3.55" fill="none" stroke="#961a3e" stroke-width="1.3"/>
<rect x="237.03" y="348.6" width="3.55" height="3.55" fill="none" stroke="#961a3e" stroke-width="1.3"/>
<rect x="242.4" y="347.02" width="3.55" height="3.55" fill="none" stroke="#961a3e" stroke-width="1.3"/>
<rect x="247.77" y="346.12" width="3.55" height="3.55" fill="none" stroke="#961a3e" stroke-width="1.3"/>
<circle cx="323.7" cy="460.9" r="1.95" fill="none" stroke="#5e8e3e" stroke-width="1.15"/>
<circle cx="327.5" cy="433.1" r="1.95" fill="none" stroke="#5e8e3e" stroke-width="1.15"/>
<circle cx="331" cy="414.6" r="1.95" fill="none" stroke="#5e8e3e" stroke-width="1.15"/>
<circle cx="334.9" cy="397.9" r="1.95" fill="none" stroke="#5e8e3e" stroke-width="1.15"/>
<circle cx="340.6" cy="384.8" r="1.95" fill="none" stroke="#5e8e3e" stroke-width="1.15"/>
<circle cx="346.5" cy="378.7" r="1.95" fill="none" stroke="#5e8e3e" stroke-width="1.15"/>
<circle cx="351.44" cy="376.66" r="1.95" fill="none" stroke="#5e8e3e" stroke-width="1.15"/>
<circle cx="356.38" cy="375.07" r="1.95" fill="none" stroke="#5e8e3e" stroke-width="1.15"/>
<circle cx="361.32" cy="373.66" r="1.95" fill="none" stroke="#5e8e3e" stroke-width="1.15"/>
<circle cx="366.26" cy="372.11" r="1.95" fill="none" stroke="#5e8e3e" stroke-width="1.15"/>
<circle cx="371.2" cy="370.88" r="1.95" fill="none" stroke="#5e8e3e" stroke-width="1.15"/>
<circle cx="376.14" cy="369.51" r="1.95" fill="none" stroke="#5e8e3e" stroke-width="1.15"/>
<circle cx="381.08" cy="368.08" r="1.95" fill="none" stroke="#5e8e3e" stroke-width="1.15"/>
<circle cx="386.02" cy="366.69" r="1.95" fill="none" stroke="#5e8e3e" stroke-width="1.15"/>
<circle cx="390.96" cy="365.6" r="1.95" fill="none" stroke="#5e8e3e" stroke-width="1.15"/>
<circle cx="395.9" cy="364.58" r="1.95" fill="none" stroke="#5e8e3e" stroke-width="1.15"/>
<circle cx="400.84" cy="363.6" r="1.95" fill="none" stroke="#5e8e3e" stroke-width="1.15"/>
<circle cx="405.78" cy="362.56" r="1.95" fill="none" stroke="#5e8e3e" stroke-width="1.15"/>
<circle cx="410.72" cy="361.25" r="1.95" fill="none" stroke="#5e8e3e" stroke-width="1.15"/>
<circle cx="415.66" cy="359.92" r="1.95" fill="none" stroke="#5e8e3e" stroke-width="1.15"/>
<circle cx="420.6" cy="358.7" r="1.95" fill="none" stroke="#5e8e3e" stroke-width="1.15"/>
<circle cx="425.54" cy="357.78" r="1.95" fill="none" stroke="#5e8e3e" stroke-width="1.15"/>
<circle cx="430.48" cy="356.9" r="1.95" fill="none" stroke="#5e8e3e" stroke-width="1.15"/>
<circle cx="435.42" cy="355.92" r="1.95" fill="none" stroke="#5e8e3e" stroke-width="1.15"/>
<circle cx="440.36" cy="354.88" r="1.95" fill="none" stroke="#5e8e3e" stroke-width="1.15"/>
<circle cx="445.3" cy="353.23" r="1.95" fill="none" stroke="#5e8e3e" stroke-width="1.15"/>
<circle cx="450.24" cy="352.44" r="1.95" fill="none" stroke="#5e8e3e" stroke-width="1.15"/>
<circle cx="455.18" cy="353.5" r="1.95" fill="none" stroke="#5e8e3e" stroke-width="1.15"/>
<circle cx="460.12" cy="354.04" r="1.95" fill="none" stroke="#5e8e3e" stroke-width="1.15"/>
<circle cx="465.06" cy="354.37" r="1.95" fill="none" stroke="#5e8e3e" stroke-width="1.15"/>
<circle cx="470" cy="354.4" r="1.95" fill="none" stroke="#5e8e3e" stroke-width="1.15"/>
<circle cx="474.94" cy="354.4" r="1.95" fill="none" stroke="#5e8e3e" stroke-width="1.15"/>
<circle cx="479.88" cy="354.31" r="1.95" fill="none" stroke="#5e8e3e" stroke-width="1.15"/>
<circle cx="484.82" cy="354.02" r="1.95" fill="none" stroke="#5e8e3e" stroke-width="1.15"/>
<circle cx="489.76" cy="353.7" r="1.95" fill="none" stroke="#5e8e3e" stroke-width="1.15"/>
<circle cx="494.7" cy="353.33" r="1.95" fill="none" stroke="#5e8e3e" stroke-width="1.15"/>
<circle cx="499.64" cy="351.7" r="1.95" fill="none" stroke="#5e8e3e" stroke-width="1.15"/>
<rect x="323.43" y="470.33" width="3.55" height="3.55" fill="none" stroke="#961a3e" stroke-width="1.3"/>
<rect x="328.93" y="398.07" width="3.55" height="3.55" fill="none" stroke="#961a3e" stroke-width="1.3"/>
<rect x="334.44" y="388.04" width="3.55" height="3.55" fill="none" stroke="#961a3e" stroke-width="1.3"/>
<rect x="339.94" y="379.13" width="3.55" height="3.55" fill="none" stroke="#961a3e" stroke-width="1.3"/>
<rect x="345.45" y="374.8" width="3.55" height="3.55" fill="none" stroke="#961a3e" stroke-width="1.3"/>
<rect x="350.96" y="369.33" width="3.55" height="3.55" fill="none" stroke="#961a3e" stroke-width="1.3"/>
<rect x="356.46" y="364.66" width="3.55" height="3.55" fill="none" stroke="#961a3e" stroke-width="1.3"/>
<rect x="361.97" y="360.87" width="3.55" height="3.55" fill="none" stroke="#961a3e" stroke-width="1.3"/>
<rect x="367.47" y="358.69" width="3.55" height="3.55" fill="none" stroke="#961a3e" stroke-width="1.3"/>
<rect x="372.98" y="355.76" width="3.55" height="3.55" fill="none" stroke="#961a3e" stroke-width="1.3"/>
<rect x="378.49" y="354.46" width="3.55" height="3.55" fill="none" stroke="#961a3e" stroke-width="1.3"/>
<rect x="383.99" y="353.13" width="3.55" height="3.55" fill="none" stroke="#961a3e" stroke-width="1.3"/>
<rect x="389.5" y="352.44" width="3.55" height="3.55" fill="none" stroke="#961a3e" stroke-width="1.3"/>
<rect x="395" y="351.33" width="3.55" height="3.55" fill="none" stroke="#961a3e" stroke-width="1.3"/>
<rect x="400.51" y="350.12" width="3.55" height="3.55" fill="none" stroke="#961a3e" stroke-width="1.3"/>
<rect x="406.01" y="349.55" width="3.55" height="3.55" fill="none" stroke="#961a3e" stroke-width="1.3"/>
<rect x="411.52" y="348.74" width="3.55" height="3.55" fill="none" stroke="#961a3e" stroke-width="1.3"/>
<rect x="417.03" y="347.71" width="3.55" height="3.55" fill="none" stroke="#961a3e" stroke-width="1.3"/>
<rect x="422.53" y="347.05" width="3.55" height="3.55" fill="none" stroke="#961a3e" stroke-width="1.3"/>
<rect x="428.04" y="346.43" width="3.55" height="3.55" fill="none" stroke="#961a3e" stroke-width="1.3"/>
<rect x="433.55" y="345.46" width="3.55" height="3.55" fill="none" stroke="#961a3e" stroke-width="1.3"/>
<rect x="439.05" y="344.85" width="3.55" height="3.55" fill="none" stroke="#961a3e" stroke-width="1.3"/>
<rect x="444.56" y="344.18" width="3.55" height="3.55" fill="none" stroke="#961a3e" stroke-width="1.3"/>
<rect x="450.06" y="343.48" width="3.55" height="3.55" fill="none" stroke="#961a3e" stroke-width="1.3"/>
<rect x="455.57" y="342.78" width="3.55" height="3.55" fill="none" stroke="#961a3e" stroke-width="1.3"/>
<rect x="461.08" y="342.08" width="3.55" height="3.55" fill="none" stroke="#961a3e" stroke-width="1.3"/>
<rect x="466.58" y="341.3" width="3.55" height="3.55" fill="none" stroke="#961a3e" stroke-width="1.3"/>
<rect x="472.09" y="340.57" width="3.55" height="3.55" fill="none" stroke="#961a3e" stroke-width="1.3"/>
<rect x="477.59" y="339.87" width="3.55" height="3.55" fill="none" stroke="#961a3e" stroke-width="1.3"/>
<rect x="483.1" y="339.17" width="3.55" height="3.55" fill="none" stroke="#961a3e" stroke-width="1.3"/>
<rect x="488.61" y="338.23" width="3.55" height="3.55" fill="none" stroke="#961a3e" stroke-width="1.3"/>
<rect x="494.11" y="337.66" width="3.55" height="3.55" fill="none" stroke="#961a3e" stroke-width="1.3"/>
<rect x="499.62" y="337.13" width="3.55" height="3.55" fill="none" stroke="#961a3e" stroke-width="1.3"/>
<path d="M325.2 438.3L327.8 440.9L325.2 443.5L322.6 440.9Z" fill="none" stroke="#28183e" stroke-width="1.25"/>
<path d="M329.98 391.96L332.58 394.56L329.98 397.16L327.38 394.56Z" fill="none" stroke="#28183e" stroke-width="1.25"/>
<path d="M335.46 382.57L338.06 385.17L335.46 387.77L332.86 385.17Z" fill="none" stroke="#28183e" stroke-width="1.25"/>
<path d="M340.94 378.47L343.54 381.07L340.94 383.67L338.34 381.07Z" fill="none" stroke="#28183e" stroke-width="1.25"/>
<path d="M346.42 374.9L349.02 377.5L346.42 380.1L343.82 377.5Z" fill="none" stroke="#28183e" stroke-width="1.25"/>
<path d="M351.9 371.74L354.5 374.34L351.9 376.94L349.3 374.34Z" fill="none" stroke="#28183e" stroke-width="1.25"/>
<path d="M357.38 369.1L359.98 371.7L357.38 374.3L354.78 371.7Z" fill="none" stroke="#28183e" stroke-width="1.25"/>
<path d="M362.86 367.43L365.46 370.03L362.86 372.63L360.26 370.03Z" fill="none" stroke="#28183e" stroke-width="1.25"/>
<path d="M368.34 365.07L370.94 367.67L368.34 370.27L365.74 367.67Z" fill="none" stroke="#28183e" stroke-width="1.25"/>
<path d="M373.82 363.88L376.42 366.48L373.82 369.08L371.22 366.48Z" fill="none" stroke="#28183e" stroke-width="1.25"/>
<path d="M379.3 362.31L381.9 364.91L379.3 367.51L376.7 364.91Z" fill="none" stroke="#28183e" stroke-width="1.25"/>
<path d="M384.78 360.71L387.38 363.31L384.78 365.91L382.18 363.31Z" fill="none" stroke="#28183e" stroke-width="1.25"/>
<path d="M390.26 359.37L392.86 361.97L390.26 364.57L387.66 361.97Z" fill="none" stroke="#28183e" stroke-width="1.25"/>
<path d="M395.74 358.43L398.34 361.03L395.74 363.63L393.14 361.03Z" fill="none" stroke="#28183e" stroke-width="1.25"/>
<path d="M401.22 357L403.82 359.6L401.22 362.2L398.62 359.6Z" fill="none" stroke="#28183e" stroke-width="1.25"/>
<path d="M406.7 355.88L409.3 358.48L406.7 361.08L404.1 358.48Z" fill="none" stroke="#28183e" stroke-width="1.25"/>
<path d="M412.18 354.65L414.78 357.25L412.18 359.85L409.58 357.25Z" fill="none" stroke="#28183e" stroke-width="1.25"/>
<path d="M417.66 353.82L420.26 356.42L417.66 359.02L415.06 356.42Z" fill="none" stroke="#28183e" stroke-width="1.25"/>
<path d="M423.14 352.71L425.74 355.31L423.14 357.91L420.54 355.31Z" fill="none" stroke="#28183e" stroke-width="1.25"/>
<path d="M428.62 351.64L431.22 354.24L428.62 356.84L426.02 354.24Z" fill="none" stroke="#28183e" stroke-width="1.25"/>
<path d="M434.1 350.52L436.7 353.12L434.1 355.72L431.5 353.12Z" fill="none" stroke="#28183e" stroke-width="1.25"/>
<path d="M439.58 349.9L442.18 352.5L439.58 355.1L436.98 352.5Z" fill="none" stroke="#28183e" stroke-width="1.25"/>
<path d="M445.06 348.5L447.66 351.1L445.06 353.7L442.46 351.1Z" fill="none" stroke="#28183e" stroke-width="1.25"/>
<path d="M450.54 347.28L453.14 349.88L450.54 352.48L447.94 349.88Z" fill="none" stroke="#28183e" stroke-width="1.25"/>
<path d="M456.02 346.92L458.62 349.52L456.02 352.12L453.42 349.52Z" fill="none" stroke="#28183e" stroke-width="1.25"/>
<path d="M461.5 345.55L464.1 348.15L461.5 350.75L458.9 348.15Z" fill="none" stroke="#28183e" stroke-width="1.25"/>
<path d="M466.98 344.8L469.58 347.4L466.98 350L464.38 347.4Z" fill="none" stroke="#28183e" stroke-width="1.25"/>
<path d="M472.46 344.01L475.06 346.61L472.46 349.21L469.86 346.61Z" fill="none" stroke="#28183e" stroke-width="1.25"/>
<path d="M477.94 343.31L480.54 345.91L477.94 348.51L475.34 345.91Z" fill="none" stroke="#28183e" stroke-width="1.25"/>
<path d="M483.42 342.37L486.02 344.97L483.42 347.57L480.82 344.97Z" fill="none" stroke="#28183e" stroke-width="1.25"/>
<path d="M488.9 341.24L491.5 343.84L488.9 346.44L486.3 343.84Z" fill="none" stroke="#28183e" stroke-width="1.25"/>
<path d="M494.38 340.61L496.98 343.21L494.38 345.81L491.78 343.21Z" fill="none" stroke="#28183e" stroke-width="1.25"/>
<path d="M499.86 339.71L502.46 342.31L499.86 344.91L497.26 342.31Z" fill="none" stroke="#28183e" stroke-width="1.25"/>
<rect x="73.7" y="42.6" width="186.25" height="187.1" fill="none" stroke="#000" stroke-width="1.45"/>
<rect x="73.7" y="306.9" width="179.3" height="176.6" fill="none" stroke="#000" stroke-width="1.45"/>
<rect x="323.8" y="306.9" width="179.5" height="176.5" fill="none" stroke="#000" stroke-width="1.45"/>
</svg>
</body></html>
